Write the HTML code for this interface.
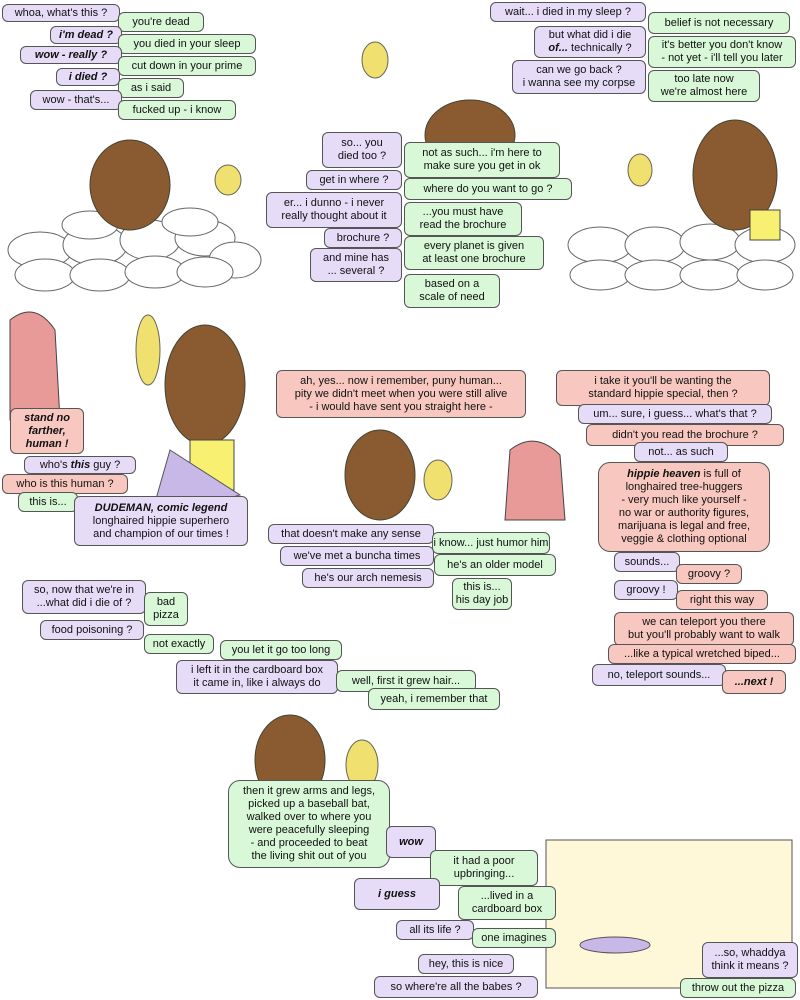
<!DOCTYPE html>
<html><head><meta charset="utf-8"><style>
body{margin:0;width:800px;height:1000px;background:#fff;position:relative;overflow:hidden;font-family:"Liberation Sans",sans-serif;font-size:11px;color:#111}
.b{position:absolute;box-sizing:border-box;border:1px solid #555;border-radius:6px;display:flex;align-items:center;justify-content:center;text-align:center;line-height:13px;padding:1px 2px;white-space:nowrap}
.p{background:#e6dcf8}.g{background:#d8f8d8}.r{background:#f8c8c0}
.bi{font-weight:bold;font-style:italic}
svg{position:absolute;left:0;top:0}
</style></head><body>
<svg width="800" height="1000">
<g fill="#fff" stroke="#666">
<ellipse cx="40" cy="250" rx="32" ry="18"/><ellipse cx="95" cy="245" rx="32" ry="20"/><ellipse cx="150" cy="240" rx="30" ry="20"/><ellipse cx="205" cy="238" rx="30" ry="18"/><ellipse cx="235" cy="260" rx="26" ry="18"/>
<ellipse cx="45" cy="275" rx="30" ry="16"/><ellipse cx="100" cy="275" rx="30" ry="16"/><ellipse cx="155" cy="272" rx="30" ry="16"/><ellipse cx="205" cy="272" rx="28" ry="15"/>
<ellipse cx="90" cy="225" rx="28" ry="14"/><ellipse cx="190" cy="222" rx="28" ry="14"/>
<ellipse cx="600" cy="245" rx="32" ry="18"/><ellipse cx="655" cy="245" rx="30" ry="18"/><ellipse cx="710" cy="242" rx="30" ry="18"/><ellipse cx="765" cy="245" rx="30" ry="18"/>
<ellipse cx="600" cy="275" rx="30" ry="15"/><ellipse cx="655" cy="275" rx="30" ry="15"/><ellipse cx="710" cy="275" rx="30" ry="15"/><ellipse cx="765" cy="275" rx="28" ry="15"/>
</g>
<g fill="#8a5a30" stroke="#443">
<ellipse cx="130" cy="185" rx="40" ry="45"/><ellipse cx="470" cy="135" rx="45" ry="35"/><ellipse cx="735" cy="175" rx="42" ry="55"/>
<ellipse cx="205" cy="385" rx="40" ry="60"/><ellipse cx="380" cy="475" rx="35" ry="45"/><ellipse cx="290" cy="760" rx="35" ry="45"/><ellipse cx="755" cy="915" rx="32" ry="35"/>
</g>
<g fill="#f0e070" stroke="#665"><ellipse cx="228" cy="180" rx="13" ry="15"/><ellipse cx="375" cy="60" rx="13" ry="18"/><ellipse cx="640" cy="170" rx="12" ry="16"/><ellipse cx="148" cy="350" rx="12" ry="35"/><ellipse cx="438" cy="480" rx="14" ry="20"/><ellipse cx="362" cy="765" rx="16" ry="25"/></g>
<g fill="#f8f070" stroke="#444"><rect x="190" y="440" width="44" height="50"/><rect x="750" y="210" width="30" height="30"/></g>
<g fill="#e89a98" stroke="#444"><path d="M10 320 Q35 300 55 330 L60 420 L10 420 Z"/><path d="M510 450 Q535 430 560 455 L565 520 L505 520 Z"/></g>
<g fill="#c8b8e8" stroke="#555"><path d="M170 450 L150 520 L240 495 Z"/></g>
<rect x="546" y="840" width="246" height="148" fill="#fff8d8" stroke="#555"/>
<ellipse cx="615" cy="945" rx="35" ry="8" fill="#c8b8e8" stroke="#555"/>
</svg>

<div class="b p" style="left:2px;top:4px;width:118px;height:18px">whoa, what's this ?</div>
<div class="b g" style="left:118px;top:12px;width:86px;height:20px">you're dead</div>
<div class="b p bi" style="left:50px;top:26px;width:72px;height:18px">i'm dead ?</div>
<div class="b g" style="left:118px;top:34px;width:138px;height:20px">you died in your sleep</div>
<div class="b p bi" style="left:20px;top:46px;width:102px;height:18px">wow - really ?</div>
<div class="b g" style="left:118px;top:56px;width:138px;height:20px">cut down in your prime</div>
<div class="b p bi" style="left:56px;top:68px;width:64px;height:18px">i died ?</div>
<div class="b g" style="left:118px;top:78px;width:66px;height:20px">as i said</div>
<div class="b p" style="left:30px;top:90px;width:92px;height:20px">wow - that's...</div>
<div class="b g" style="left:118px;top:100px;width:118px;height:20px">fucked up - i know</div>

<div class="b p" style="left:322px;top:132px;width:80px;height:36px">so... you<br>died too ?</div>
<div class="b g" style="left:404px;top:142px;width:156px;height:36px">not as such... i'm here to<br>make sure you get in ok</div>
<div class="b p" style="left:306px;top:170px;width:96px;height:20px">get in where ?</div>
<div class="b g" style="left:404px;top:178px;width:168px;height:22px">where do you want to go ?</div>
<div class="b p" style="left:266px;top:192px;width:136px;height:36px">er... i dunno - i never<br>really thought about it</div>
<div class="b g" style="left:404px;top:202px;width:118px;height:34px">...you must have<br>read the brochure</div>
<div class="b p" style="left:324px;top:228px;width:78px;height:20px">brochure ?</div>
<div class="b g" style="left:404px;top:236px;width:140px;height:34px">every planet is given<br>at least one brochure</div>
<div class="b p" style="left:310px;top:248px;width:92px;height:34px">and mine has<br>... several ?</div>
<div class="b g" style="left:404px;top:274px;width:96px;height:34px">based on a<br>scale of need</div>

<div class="b p" style="left:490px;top:2px;width:156px;height:20px">wait... i died in my sleep ?</div>
<div class="b g" style="left:648px;top:12px;width:142px;height:22px">belief is not necessary</div>
<div class="b p" style="left:534px;top:26px;width:112px;height:32px"><span>but what did i die<br><b><i>of...</i></b> technically ?</span></div>
<div class="b g" style="left:648px;top:36px;width:148px;height:32px">it's better you don't know<br>- not yet - i'll tell you later</div>
<div class="b p" style="left:512px;top:60px;width:134px;height:34px">can we go back ?<br>i wanna see my corpse</div>
<div class="b g" style="left:648px;top:70px;width:112px;height:32px">too late now<br>we're almost here</div>

<div class="b r bi" style="left:10px;top:408px;width:74px;height:46px">stand no<br>farther,<br>human !</div>
<div class="b p" style="left:24px;top:456px;width:112px;height:18px"><span>who's <b><i>this</i></b> guy ?</span></div>
<div class="b r" style="left:2px;top:474px;width:126px;height:20px">who is this human ?</div>
<div class="b g" style="left:18px;top:492px;width:60px;height:20px">this is...</div>
<div class="b p" style="left:74px;top:496px;width:174px;height:50px"><span><b><i>DUDEMAN, comic legend</i></b><br>longhaired hippie superhero<br>and champion of our times !</span></div>

<div class="b r" style="left:276px;top:370px;width:250px;height:48px">ah, yes... now i remember, puny human...<br>pity we didn't meet when you were still alive<br>- i would have sent you straight here -</div>
<div class="b p" style="left:268px;top:524px;width:166px;height:20px">that doesn't make any sense</div>
<div class="b g" style="left:432px;top:532px;width:118px;height:22px">i know... just humor him</div>
<div class="b p" style="left:280px;top:546px;width:154px;height:20px">we've met a buncha times</div>
<div class="b g" style="left:434px;top:554px;width:122px;height:22px">he's an older model</div>
<div class="b p" style="left:302px;top:568px;width:132px;height:20px">he's our arch nemesis</div>
<div class="b g" style="left:452px;top:578px;width:60px;height:32px">this is...<br>his day job</div>

<div class="b r" style="left:556px;top:370px;width:214px;height:36px">i take it you'll be wanting the<br>standard hippie special, then ?</div>
<div class="b p" style="left:578px;top:404px;width:194px;height:20px">um... sure, i guess... what's that ?</div>
<div class="b r" style="left:586px;top:424px;width:198px;height:22px">didn't you read the brochure ?</div>
<div class="b p" style="left:634px;top:442px;width:94px;height:20px">not... as such</div>
<div class="b r" style="left:598px;top:462px;width:172px;height:90px;border-radius:12px"><span><b><i>hippie heaven</i></b> is full of<br>longhaired tree-huggers<br>- very much like yourself -<br>no war or authority figures,<br>marijuana is legal and free,<br>veggie &amp; clothing optional</span></div>
<div class="b p" style="left:614px;top:552px;width:66px;height:20px">sounds...</div>
<div class="b r" style="left:676px;top:564px;width:66px;height:20px">groovy ?</div>
<div class="b p" style="left:614px;top:580px;width:64px;height:20px">groovy !</div>
<div class="b r" style="left:676px;top:590px;width:92px;height:20px">right this way</div>
<div class="b r" style="left:614px;top:612px;width:180px;height:34px">we can teleport you there<br>but you'll probably want to walk</div>
<div class="b r" style="left:608px;top:644px;width:188px;height:20px">...like a typical wretched biped...</div>
<div class="b p" style="left:592px;top:664px;width:134px;height:22px">no, teleport sounds...</div>
<div class="b r bi" style="left:722px;top:670px;width:64px;height:24px">...next !</div>

<div class="b p" style="left:22px;top:580px;width:124px;height:34px">so, now that we're in<br>...what did i die of ?</div>
<div class="b g" style="left:144px;top:592px;width:44px;height:34px">bad<br>pizza</div>
<div class="b p" style="left:40px;top:620px;width:104px;height:20px">food poisoning ?</div>
<div class="b g" style="left:144px;top:634px;width:70px;height:20px">not exactly</div>
<div class="b g" style="left:220px;top:640px;width:122px;height:20px">you let it go too long</div>
<div class="b p" style="left:176px;top:660px;width:162px;height:34px">i left it in the cardboard box<br>it came in, like i always do</div>
<div class="b g" style="left:336px;top:670px;width:140px;height:22px">well, first it grew hair...</div>
<div class="b g" style="left:368px;top:688px;width:132px;height:22px">yeah, i remember that</div>
<div class="b g" style="left:228px;top:780px;width:162px;height:88px;border-radius:12px">then it grew arms and legs,<br>picked up a baseball bat,<br>walked over to where you<br>were peacefully sleeping<br>- and proceeded to beat<br>the living shit out of you</div>
<div class="b p bi" style="left:386px;top:826px;width:50px;height:32px">wow</div>
<div class="b g" style="left:430px;top:850px;width:108px;height:36px">it had a poor<br>upbringing...</div>
<div class="b p bi" style="left:354px;top:878px;width:86px;height:32px">i guess</div>
<div class="b g" style="left:458px;top:886px;width:98px;height:34px">...lived in a<br>cardboard box</div>
<div class="b p" style="left:396px;top:920px;width:78px;height:20px">all its life ?</div>
<div class="b g" style="left:472px;top:928px;width:84px;height:20px">one imagines</div>
<div class="b p" style="left:418px;top:954px;width:96px;height:20px">hey, this is nice</div>
<div class="b p" style="left:374px;top:976px;width:164px;height:22px">so where're all the babes ?</div>
<div class="b p" style="left:702px;top:942px;width:96px;height:36px">...so, whaddya<br>think it means ?</div>
<div class="b g" style="left:680px;top:978px;width:116px;height:20px">throw out the pizza</div>
</body></html>
